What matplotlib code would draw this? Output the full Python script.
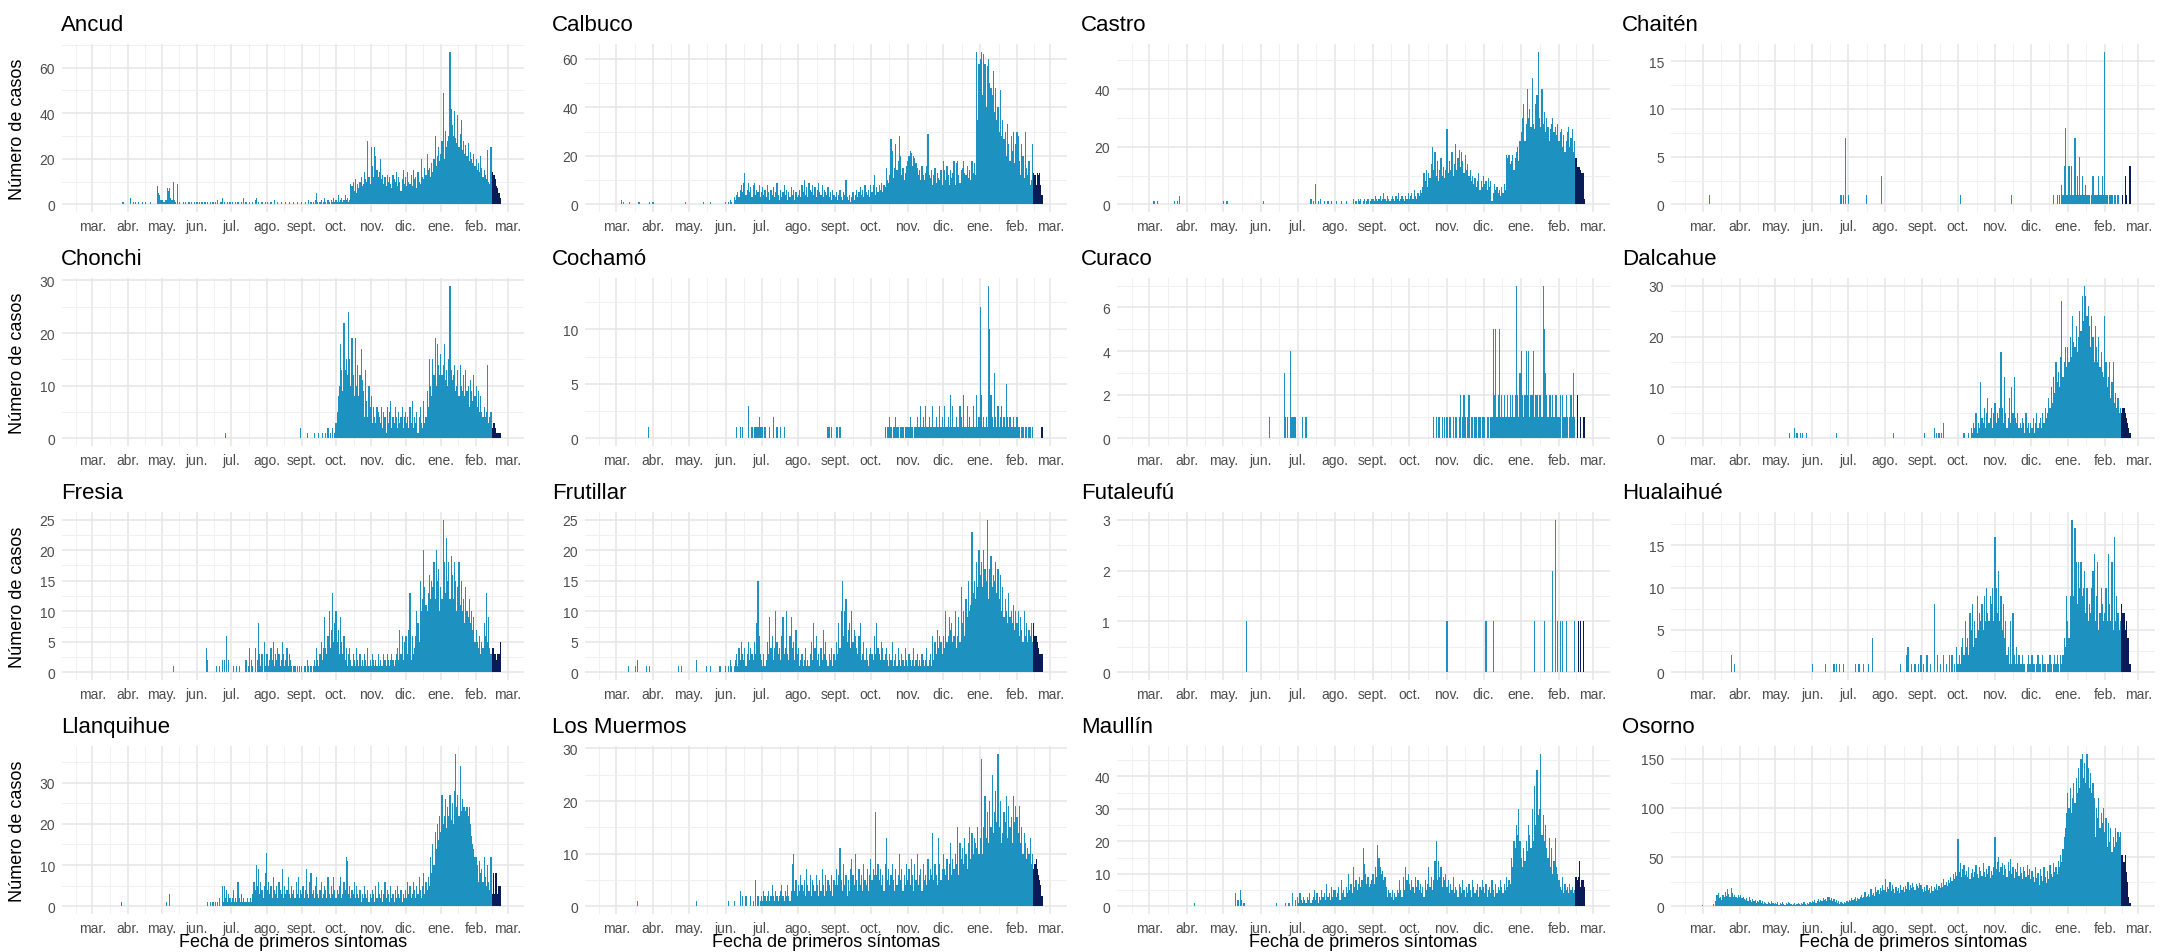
import numpy as np
import matplotlib
matplotlib.use("Agg")
import matplotlib.pyplot as plt

plt.rcParams['font.family'] = ['Liberation Sans', 'DejaVu Sans']

# Casos diarios por fecha de primeros síntomas, 2020-03-01 a 2021-02-22
# (una lista por mes; los ultimos 8 dias son provisorios, en azul oscuro)
dias_mes = [31, 30, 31, 30, 31, 31, 30, 31, 30, 31, 31, 22]
etiquetas_mes = ["mar.", "abr.", "may.", "jun.", "jul.", "ago.", "sept.",
                 "oct.", "nov.", "dic.", "ene.", "feb.", "mar."]
inicio_mes = [0, 31, 61, 92, 122, 153, 184, 214, 245, 275, 306, 337, 365]
n_provisorio = 8

ancud = [
    [0]*27 + [1, 0, 0, 0],
    [0, 0, 0, 3, 0, 1, 0, 1, 0, 0, 1, 0, 0, 1, 0, 0, 1, 0, 0, 0, 1, 0, 0, 0, 0, 0, 8, 5, 4, 2],
    [2, 2, 1, 2, 2, 7, 6, 7, 3, 2, 10, 2, 1, 0, 9, 0, 1, 0, 0, 1, 0, 1, 0, 0, 1, 0, 1, 0, 0, 1, 0],
    [1, 0, 1, 0, 1, 1, 0, 1, 0, 1, 0, 0, 1, 0, 1, 0, 1, 0, 2, 0, 0, 1, 3, 0, 1, 0, 0, 1, 0, 1],
    [0, 1, 0, 0, 1, 0, 1, 0, 0, 1, 0, 3, 0, 1, 0, 0, 1, 0, 0, 1, 0, 2, 3, 0, 1, 0, 0, 1, 0, 0, 1],
    [0, 1, 0, 0, 1, 0, 0, 2, 0, 0, 1, 0, 0, 1, 0, 0, 0, 1, 0, 0, 1, 0, 0, 0, 1, 0, 0, 1, 0, 0, 0],
    [1, 0, 0, 1, 0, 0, 2, 0, 1, 0, 1, 0, 2, 5, 1, 0, 1, 2, 0, 1, 3, 1, 0, 2, 1, 0, 2, 1, 3, 1],
    [2, 1, 4, 1, 2, 3, 1, 2, 4, 2, 3, 1, 2, 9, 8, 10, 6, 11, 5, 9, 7, 10, 12, 8, 9, 14, 11, 10, 28, 12, 9],
    [25, 17, 12, 25, 21, 15, 12, 14, 20, 11, 13, 9, 12, 8, 13, 10, 12, 9, 7, 13, 11, 10, 14, 8, 12, 10, 6, 11, 15, 9],
    [12, 8, 14, 10, 9, 13, 8, 15, 11, 12, 7, 14, 10, 9, 20, 12, 11, 16, 13, 22, 15, 16, 12, 18, 14, 20, 30, 17, 21, 25, 19],
    [22, 28, 49, 20, 32, 25, 28, 30, 67, 42, 35, 30, 41, 29, 27, 39, 25, 31, 37, 24, 28, 22, 26, 21, 27, 19, 23, 20, 18, 22, 17],
    [20, 15, 18, 14, 21, 16, 12, 15, 13, 11, 24, 10, 9, 25, 14, 13, 13, 11, 8, 7, 5, 3],
]

calbuco = [
    [0, 0, 0, 0, 2, 0, 1, 0, 0, 0, 0, 1, 0, 0, 0, 0, 0, 0, 0, 1, 0, 0, 0, 0, 0, 0, 0, 0, 1, 0, 1],
    [1] + [0]*26 + [1, 0, 0],
    [0]*12 + [1] + [0]*5 + [1] + [0]*12,
    [1, 0, 1, 0, 2, 1, 0, 3, 2, 4, 5, 3, 6, 8, 5, 9, 13, 4, 6, 9, 5, 7, 3, 8, 9, 4, 6, 5, 8, 3],
    [5, 7, 4, 6, 3, 8, 5, 2, 6, 4, 7, 3, 5, 9, 4, 2, 6, 3, 5, 8, 4, 6, 2, 5, 3, 7, 4, 6, 2, 5, 3],
    [4, 6, 3, 8, 5, 10, 4, 7, 3, 9, 6, 5, 8, 4, 7, 3, 6, 9, 5, 4, 8, 3, 6, 5, 4, 7, 3, 5, 2, 6, 4],
    [3, 5, 2, 4, 6, 3, 2, 5, 4, 10, 3, 2, 4, 1, 3, 5, 2, 4, 6, 3, 5, 7, 4, 6, 3, 8, 5, 4, 6, 3],
    [8, 5, 8, 12, 4, 7, 5, 8, 6, 9, 5, 8, 7, 15, 10, 9, 12, 27, 22, 11, 15, 25, 14, 18, 28, 20, 12, 15, 10, 13, 16],
    [18, 20, 22, 21, 16, 20, 19, 17, 15, 12, 14, 10, 16, 12, 10, 13, 16, 29, 12, 11, 14, 8, 12, 15, 9, 13, 11, 10, 14, 8],
    [18, 14, 10, 16, 12, 8, 14, 11, 13, 18, 8, 17, 18, 12, 9, 14, 15, 18, 13, 12, 16, 11, 14, 10, 18, 13, 17, 12, 63, 35, 58],
    [60, 63, 45, 62, 58, 40, 57, 60, 50, 48, 45, 55, 38, 48, 35, 40, 30, 47, 28, 35, 27, 30, 20, 33, 25, 18, 28, 22, 30, 17, 25],
    [30, 28, 18, 12, 25, 20, 11, 30, 15, 12, 18, 8, 10, 25, 13, 12, 8, 13, 12, 13, 8, 4],
]

castro = [
    [0, 0, 0, 0, 1, 0, 0, 1] + [0]*13 + [1, 0, 1, 0, 3] + [0]*5,
    [0]*30,
    [1, 0, 0, 1] + [0]*27,
    [0, 0, 1] + [0]*27,
    [0]*11 + [2, 0, 1, 0, 7, 0, 1, 0, 2, 0, 0, 1, 0, 0, 1, 0, 0, 1, 0, 0],
    [0, 1, 0, 0, 0, 1, 0, 0, 0, 1, 0, 0, 0, 0, 0, 2, 0, 1, 0, 2, 1, 2, 0, 1, 2, 0, 1, 2, 0, 1, 2],
    [2, 1, 3, 2, 1, 2, 3, 1, 2, 4, 2, 1, 3, 2, 1, 2, 3, 2, 1, 3, 2, 4, 1, 2, 3, 2, 1, 3, 2, 4],
    [2, 3, 4, 2, 5, 3, 2, 4, 3, 5, 4, 6, 11, 8, 12, 6, 11, 9, 14, 20, 12, 18, 10, 15, 8, 12, 16, 10, 13, 9, 12],
    [26, 11, 15, 12, 18, 10, 14, 21, 12, 16, 19, 13, 18, 15, 11, 17, 12, 14, 10, 12, 8, 10, 7, 9, 6, 8, 11, 5, 8, 6],
    [10, 7, 8, 5, 9, 6, 8, 1, 4, 7, 5, 6, 4, 5, 3, 6, 4, 7, 5, 17, 16, 17, 14, 15, 17, 12, 16, 18, 20, 15, 22],
    [25, 30, 35, 22, 28, 40, 30, 33, 27, 44, 28, 26, 35, 38, 53, 30, 27, 40, 28, 32, 25, 30, 27, 22, 26, 28, 30, 25, 27, 24, 28],
    [22, 25, 26, 20, 24, 18, 22, 25, 27, 20, 23, 26, 18, 22, 16, 13, 13, 13, 12, 11, 11, 2],
]

chaiten = [
    [0]*6 + [1] + [0]*24,
    [0]*30,
    [0]*31,
    [0]*24 + [1, 0, 1, 0, 7, 0],
    [1] + [0]*14 + [1] + [0]*12 + [3, 0, 0],
    [0]*31,
    [0]*30,
    [0, 0, 1] + [0]*28,
    [0]*14 + [1] + [0]*15,
    [0]*19 + [1, 0, 0, 1, 0, 1, 0, 2, 1, 4, 8, 1],
    [1, 4, 1, 4, 1, 1, 7, 1, 3, 1, 5, 1, 3, 1, 1, 2, 1, 1, 1, 0, 1, 3, 1, 1, 1, 1, 3, 1, 1, 3, 1],
    [16, 1, 1, 0, 1, 1, 1, 0, 1, 1, 0, 1, 0, 0, 0, 1, 0, 3, 1, 0, 0, 4],
]

chonchi = [
    [0]*31,
    [0]*30,
    [0]*31,
    [0]*25 + [1, 0, 0, 0, 0],
    [0]*31,
    [0]*30 + [2],
    [0, 0, 0, 0, 0, 1, 0, 0, 0, 0, 0, 1, 0, 0, 0, 1, 0, 0, 1, 0, 0, 1, 0, 2, 0, 1, 0, 2, 0, 1],
    [3, 5, 8, 10, 18, 13, 9, 22, 13, 15, 12, 24, 15, 10, 19, 12, 8, 19, 10, 14, 8, 12, 17, 11, 9, 4, 13, 7, 4, 10, 6],
    [8, 3, 6, 4, 3, 6, 5, 4, 3, 6, 2, 5, 4, 1, 6, 3, 5, 7, 2, 4, 3, 6, 4, 2, 5, 3, 4, 6, 2, 4],
    [5, 3, 4, 2, 6, 3, 7, 2, 4, 3, 5, 1, 4, 6, 3, 2, 7, 3, 4, 9, 6, 15, 10, 8, 15, 12, 19, 10, 18, 14, 12],
    [16, 12, 14, 18, 11, 13, 10, 15, 29, 13, 11, 12, 14, 9, 10, 13, 8, 14, 10, 9, 12, 8, 13, 9, 10, 6, 11, 9, 7, 12, 8],
    [10, 6, 9, 5, 8, 5, 4, 6, 4, 5, 14, 3, 4, 5, 2, 3, 3, 2, 1, 1, 1, 1],
]

cochamo = [
    [0]*27 + [1, 0, 0, 0],
    [0]*30,
    [0]*31,
    [0]*9 + [1, 0, 0, 1, 0, 1, 0, 0, 0, 0, 3, 0, 0, 1, 0, 1, 1, 1, 1, 2, 1],
    [1, 1, 0, 1, 0, 0, 0, 1, 0, 0, 2, 0, 0, 1, 0, 0, 1, 0, 0, 1] + [0]*11,
    [0]*25 + [1, 1, 0, 1, 0, 0],
    [0, 1, 1, 0, 1] + [0]*25,
    [0]*12 + [1, 0, 1, 1, 2, 1, 0, 1, 1, 2, 1, 1, 0, 1, 1, 1, 0, 1, 1],
    [1, 1, 2, 1, 1, 0, 1, 1, 2, 1, 1, 3, 1, 2, 1, 3, 1, 1, 2, 1, 1, 3, 1, 1, 2, 1, 1, 3, 1, 2],
    [1, 3, 1, 1, 2, 1, 4, 1, 3, 1, 1, 2, 1, 1, 3, 2, 1, 4, 1, 1, 3, 1, 2, 1, 1, 3, 1, 1, 4, 1, 2],
    [12, 4, 1, 2, 1, 2, 1, 14, 10, 4, 2, 1, 6, 2, 1, 3, 1, 2, 3, 1, 2, 1, 5, 2, 1, 2, 1, 1, 2, 1, 1],
    [2, 1, 1, 0, 1, 1, 0, 1, 1, 0, 1, 1, 0, 1, 0, 0, 0, 0, 0, 0, 0, 1],
]

curaco = [
    [0]*31,
    [0]*30,
    [0]*31,
    [0]*7 + [1] + [0]*11 + [3, 1, 0, 1, 0, 4, 1, 1, 1, 1, 0],
    [0, 0, 0, 0, 1, 0, 0, 1] + [0]*23,
    [0]*31,
    [0]*30,
    [0]*20 + [1, 0, 1, 0, 1, 1, 0, 1, 0, 1, 0],
    [1, 0, 1, 1, 0, 1, 0, 1, 1, 0, 1, 2, 0, 1, 2, 1, 0, 1, 2, 0, 1, 1, 0, 1, 1, 0, 1, 1, 0, 1],
    [1, 1, 0, 1, 1, 0, 1, 1, 5, 2, 5, 1, 2, 5, 1, 2, 1, 2, 1, 1, 2, 1, 2, 1, 2, 1, 2, 7, 2, 1, 3],
    [4, 2, 1, 2, 4, 2, 4, 1, 2, 2, 4, 1, 2, 2, 1, 2, 2, 1, 7, 5, 3, 2, 1, 2, 2, 1, 2, 1, 2, 2, 1],
    [1, 2, 0, 2, 1, 1, 2, 1, 0, 1, 2, 1, 3, 1, 0, 2, 0, 0, 1, 0, 1, 1],
]

dalcahue = [
    [0]*31,
    [0]*30,
    [0]*12 + [1, 0, 0, 0, 2, 0, 1, 0, 0, 1, 0, 1, 0, 0, 1] + [0]*4,
    [0]*20 + [1] + [0]*9,
    [0]*31,
    [0]*7 + [1] + [0]*23,
    [0, 0, 1, 0, 0, 0, 0, 0, 0, 0, 2, 0, 1, 0, 1, 0, 1, 0, 3] + [0]*11,
    [0, 0, 0, 0, 0, 1, 0, 0, 0, 1, 0, 2, 1, 3, 2, 5, 1, 3, 2, 11, 4, 3, 6, 2, 5, 8, 3, 4, 6, 2, 5],
    [7, 3, 5, 4, 6, 17, 6, 3, 12, 5, 2, 4, 8, 3, 10, 5, 12, 4, 3, 5, 2, 3, 2, 4, 3, 1, 5, 2, 3, 1],
    [3, 2, 4, 1, 3, 5, 2, 3, 4, 2, 5, 3, 6, 4, 5, 8, 6, 10, 7, 12, 9, 15, 11, 13, 10, 16, 27, 12, 15, 18, 14],
    [18, 15, 20, 16, 24, 19, 18, 22, 17, 20, 25, 21, 28, 23, 30, 28, 24, 26, 22, 18, 24, 20, 15, 22, 18, 15, 20, 14, 17, 13, 12],
    [24, 15, 10, 12, 15, 8, 11, 15, 7, 9, 6, 8, 5, 6, 5, 6, 6, 5, 4, 3, 2, 1],
]

fresia = [
    [0]*31,
    [0]*30,
    [0]*10 + [1] + [0]*20,
    [0]*8 + [4, 2, 0, 0, 0, 0, 0, 0, 0, 1, 0, 0, 1, 0, 2, 0, 2, 0, 6, 0, 2, 0],
    [0, 0, 1, 0, 0, 1, 0, 1, 0, 0, 0, 0, 0, 2, 0, 1, 4, 0, 2, 1, 0, 4, 0, 2, 8, 3, 1, 3, 0, 5, 1],
    [3, 3, 1, 2, 4, 2, 5, 1, 3, 2, 4, 3, 1, 2, 5, 3, 1, 2, 4, 1, 3, 2, 1, 0, 1, 1, 0, 1, 0, 1, 0],
    [1, 0, 1, 1, 0, 2, 1, 0, 1, 0, 1, 2, 1, 4, 2, 1, 3, 5, 2, 4, 9, 4, 3, 6, 10, 4, 7, 13, 5, 8],
    [10, 5, 7, 3, 9, 5, 3, 6, 2, 4, 1, 3, 4, 2, 1, 3, 2, 1, 4, 2, 1, 3, 1, 2, 1, 3, 2, 1, 4, 1, 2],
    [1, 3, 2, 1, 2, 1, 3, 1, 2, 1, 1, 3, 2, 1, 3, 2, 1, 2, 3, 2, 1, 2, 3, 4, 2, 7, 3, 6, 2, 5],
    [6, 6, 3, 7, 13, 2, 6, 3, 4, 6, 10, 8, 5, 15, 10, 12, 20, 14, 11, 10, 13, 16, 12, 15, 14, 18, 12, 20, 15, 17, 10],
    [14, 12, 25, 18, 13, 22, 15, 18, 12, 19, 16, 12, 18, 15, 10, 14, 18, 11, 15, 10, 12, 8, 14, 10, 9, 12, 8, 10, 7, 9, 5],
    [7, 5, 4, 6, 3, 5, 4, 8, 6, 13, 5, 9, 4, 3, 4, 4, 3, 3, 2, 3, 3, 5],
]

frutillar = [
    [0]*10 + [1, 0, 0, 0, 0, 0, 1, 0, 2, 0, 0, 0, 0, 0, 0, 1, 0, 0, 1, 0, 0],
    [0]*21 + [1, 0, 0, 1, 0, 0, 0, 0, 0],
    [0]*6 + [2] + [0]*8 + [1, 0, 0, 1] + [0]*7 + [1, 0, 0, 0, 0],
    [1, 0, 1, 0, 2, 1, 0, 1, 2, 3, 1, 4, 2, 5, 3, 2, 4, 1, 3, 5, 2, 4, 3, 2, 5, 3, 8, 15, 6, 3],
    [2, 1, 3, 1, 2, 5, 3, 9, 4, 6, 2, 4, 10, 5, 3, 4, 2, 6, 9, 3, 4, 10, 3, 2, 6, 9, 4, 5, 2, 7, 3],
    [4, 1, 2, 3, 1, 2, 4, 1, 2, 1, 3, 5, 2, 8, 4, 6, 2, 3, 1, 4, 2, 7, 3, 5, 2, 1, 3, 2, 4, 1, 3],
    [2, 5, 3, 8, 4, 10, 15, 6, 10, 12, 5, 7, 8, 4, 10, 5, 7, 6, 4, 3, 6, 8, 2, 3, 5, 2, 4, 2, 1, 3],
    [4, 3, 2, 6, 3, 8, 4, 3, 2, 5, 4, 2, 3, 4, 2, 1, 3, 2, 5, 1, 2, 3, 1, 4, 2, 1, 3, 2, 1, 4, 2],
    [1, 3, 2, 1, 2, 4, 1, 2, 3, 1, 2, 1, 3, 2, 1, 2, 4, 1, 2, 3, 1, 6, 2, 5, 3, 7, 4, 6, 5, 3],
    [6, 4, 10, 5, 6, 9, 7, 8, 5, 6, 10, 4, 6, 9, 5, 14, 8, 10, 6, 12, 9, 15, 10, 11, 23, 13, 15, 12, 18, 14, 20],
    [16, 18, 14, 20, 17, 15, 25, 12, 17, 19, 14, 16, 15, 18, 13, 17, 12, 16, 10, 14, 9, 12, 10, 8, 13, 9, 10, 8, 11, 7, 10],
    [8, 10, 6, 9, 7, 5, 10, 6, 8, 5, 7, 6, 8, 5, 8, 6, 6, 5, 4, 3, 3, 3],
]

futaleufu = [
    [0]*31,
    [0]*30,
    [0]*19 + [1] + [0]*11,
    [0]*30,
    [0]*31,
    [0]*31,
    [0]*30,
    [0]*31,
    [1] + [0]*29,
    [0, 0, 1, 0, 0, 0, 0, 0, 1] + [0]*22,
    [0]*11 + [1] + [0]*7 + [1] + [0]*6 + [2, 0, 3, 0, 1],
    [0, 1, 0, 1, 0, 0, 1, 0, 0, 0, 0, 0, 0, 1, 0, 0, 1, 0, 1, 0, 1, 0],
]

hualaihue = [
    [0]*24 + [2, 0, 0, 1, 0, 0, 0],
    [0]*30,
    [0]*31,
    [1] + [0]*10 + [1] + [0]*6 + [1, 0, 1, 0, 0, 1, 0, 0, 1, 0, 0, 0],
    [0]*6 + [1, 0, 0, 1, 0, 0, 0, 1, 0, 0, 0, 1, 0, 0, 4] + [0]*10,
    [0]*13 + [1, 0, 0, 0, 0, 2, 3, 0, 0, 1, 0, 0, 1, 0, 0, 1, 0, 2],
    [0, 1, 0, 0, 2, 0, 0, 1, 0, 0, 8, 0, 0, 2, 0, 1, 0, 0, 2, 0, 1, 0, 0, 2, 0, 2, 0, 1, 0, 3],
    [1, 2, 1, 3, 4, 2, 6, 3, 4, 2, 7, 5, 8, 3, 6, 4, 9, 5, 7, 6, 8, 5, 9, 6, 10, 7, 6, 9, 8, 10, 6],
    [16, 10, 7, 12, 6, 9, 5, 8, 4, 6, 2, 3, 1, 6, 1, 7, 2, 1, 3, 1, 2, 1, 1, 2, 1, 1, 0, 1, 2, 1],
    [1, 2, 1, 1, 0, 1, 2, 1, 1, 0, 2, 1, 1, 0, 1, 1, 2, 1, 0, 1, 2, 1, 2, 1, 0, 2, 1, 2, 4, 3, 9],
    [6, 4, 9, 18, 18, 9, 17, 13, 8, 13, 10, 13, 9, 10, 12, 7, 10, 6, 8, 7, 10, 12, 14, 6, 9, 13, 5, 7, 10, 8, 6],
    [7, 10, 6, 14, 8, 6, 13, 5, 16, 6, 9, 7, 5, 6, 8, 7, 7, 5, 6, 4, 4, 1],
]

llanquihue = [
    [0]*26 + [1, 0, 0, 0, 0],
    [0]*30,
    [0, 0, 0, 0, 1, 0, 0, 3] + [0]*23,
    [0]*9 + [1, 0, 0, 1, 0, 1, 0, 1, 0, 1, 0, 2, 0, 5, 1, 5, 2, 4, 1, 3, 2],
    [1, 2, 4, 1, 2, 1, 6, 2, 1, 3, 1, 2, 1, 1, 2, 1, 1, 2, 1, 3, 6, 4, 10, 5, 9, 3, 6, 4, 2, 5, 8],
    [13, 4, 6, 3, 5, 2, 7, 4, 3, 5, 2, 6, 4, 3, 9, 2, 5, 3, 4, 7, 3, 2, 5, 3, 4, 2, 6, 3, 7, 2, 4],
    [3, 5, 2, 4, 9, 3, 2, 6, 8, 3, 4, 2, 5, 7, 3, 2, 4, 6, 2, 3, 5, 4, 2, 7, 3, 2, 5, 3, 7, 4],
    [2, 4, 3, 5, 7, 2, 3, 6, 4, 12, 11, 3, 5, 2, 4, 3, 6, 2, 5, 3, 2, 4, 1, 3, 2, 5, 3, 2, 4, 1, 3],
    [2, 4, 3, 1, 5, 2, 6, 3, 2, 4, 1, 3, 6, 2, 4, 3, 1, 5, 2, 3, 1, 4, 2, 5, 3, 2, 4, 1, 3, 2],
    [4, 2, 6, 3, 5, 2, 3, 6, 4, 2, 5, 3, 7, 4, 2, 5, 8, 3, 6, 4, 7, 5, 12, 8, 15, 10, 18, 14, 20, 16, 22],
    [18, 27, 20, 22, 26, 19, 24, 22, 27, 21, 25, 20, 28, 37, 24, 27, 22, 34, 23, 26, 24, 24, 23, 24, 22, 24, 20, 17, 15, 14, 12],
    [12, 10, 6, 11, 8, 9, 6, 12, 7, 5, 10, 6, 4, 12, 3, 8, 3, 8, 8, 3, 5, 5],
]

los_muermos = [
    [0]*18 + [1] + [0]*12,
    [0]*30,
    [0]*6 + [1] + [0]*24,
    [0, 0, 1, 0, 0, 0, 0, 1, 0, 0, 0, 0, 3, 0, 2, 0, 0, 2, 0, 0, 0, 2, 0, 1, 0, 5, 0, 2, 0, 1],
    [2, 1, 3, 2, 1, 2, 3, 1, 2, 4, 2, 1, 3, 2, 1, 2, 3, 4, 2, 1, 3, 2, 4, 2, 1, 3, 8, 10, 3, 5, 2],
    [4, 3, 6, 4, 3, 5, 2, 7, 4, 3, 6, 2, 5, 4, 3, 6, 4, 2, 5, 3, 7, 4, 2, 6, 3, 5, 4, 3, 6, 2, 5],
    [4, 7, 4, 6, 11, 5, 3, 8, 4, 6, 2, 5, 3, 7, 9, 6, 4, 10, 5, 3, 7, 4, 6, 3, 8, 5, 4, 7, 3, 6],
    [9, 5, 7, 6, 18, 6, 8, 5, 7, 4, 6, 3, 8, 13, 5, 7, 4, 6, 8, 5, 3, 7, 4, 6, 10, 5, 7, 3, 6, 4, 8],
    [5, 7, 4, 9, 6, 3, 8, 5, 10, 4, 6, 7, 3, 8, 5, 6, 4, 9, 5, 7, 6, 14, 5, 8, 6, 4, 13, 8, 5, 7],
    [10, 7, 6, 9, 5, 8, 12, 6, 9, 7, 10, 8, 15, 6, 12, 9, 11, 8, 13, 10, 7, 12, 15, 9, 14, 10, 13, 12, 11, 15, 10],
    [13, 28, 10, 15, 21, 13, 18, 12, 20, 15, 25, 14, 18, 22, 16, 29, 15, 20, 12, 14, 18, 16, 21, 13, 19, 15, 17, 12, 21, 16, 19],
    [17, 14, 19, 12, 15, 10, 14, 12, 9, 11, 10, 13, 8, 10, 7, 8, 9, 7, 6, 5, 4, 2],
]

maullin = [
    [0]*31,
    [0]*6 + [1] + [0]*23,
    [0]*10 + [4, 0, 2, 0, 5, 2, 0, 1] + [0]*13,
    [0]*13 + [1] + [0]*6 + [1, 0, 0, 1, 0, 0, 4, 0, 2, 0],
    [3, 1, 4, 2, 1, 3, 2, 1, 3, 2, 4, 1, 2, 3, 5, 2, 4, 1, 3, 2, 5, 3, 4, 2, 7, 3, 4, 2, 6, 3, 5],
    [5, 3, 4, 6, 2, 8, 4, 5, 3, 6, 4, 10, 5, 7, 4, 12, 6, 8, 5, 7, 9, 6, 8, 18, 13, 10, 7, 9, 6, 7, 8],
    [10, 7, 12, 9, 19, 15, 12, 10, 11, 8, 9, 6, 3, 5, 4, 3, 5, 2, 4, 3, 5, 4, 8, 5, 3, 9, 5, 12, 8, 10],
    [7, 5, 8, 6, 4, 9, 6, 8, 5, 7, 4, 6, 3, 8, 5, 7, 12, 6, 9, 5, 8, 14, 20, 8, 14, 9, 12, 6, 9, 8, 10],
    [6, 8, 4, 7, 5, 9, 4, 6, 5, 3, 7, 6, 4, 8, 5, 3, 6, 4, 7, 5, 3, 8, 6, 4, 5, 7, 3, 6, 5, 8],
    [6, 4, 7, 3, 5, 6, 4, 8, 5, 3, 7, 4, 6, 5, 8, 6, 4, 7, 5, 9, 6, 8, 7, 15, 12, 20, 18, 25, 22, 30, 20],
    [15, 12, 18, 14, 20, 17, 25, 22, 18, 30, 20, 37, 25, 42, 28, 30, 47, 22, 28, 20, 25, 18, 15, 21, 12, 18, 10, 14, 21, 12, 10],
    [8, 6, 5, 9, 4, 7, 5, 6, 4, 7, 5, 6, 4, 5, 9, 8, 9, 14, 6, 8, 8, 6],
]

osorno = [
    [1, 0, 0, 0, 0, 0, 0, 0, 0, 2, 0, 5, 12, 14, 8, 10, 6, 12, 9, 15, 11, 18, 13, 10, 19, 14, 9, 12, 10, 8, 12],
    [10, 12, 8, 9, 7, 6, 8, 5, 9, 6, 4, 7, 5, 6, 3, 5, 4, 6, 3, 5, 2, 4, 3, 2, 4, 3, 2, 5, 3, 2],
    [3, 2, 4, 1, 3, 2, 4, 2, 1, 3, 2, 4, 3, 2, 1, 2, 3, 1, 2, 3, 2, 1, 3, 2, 4, 2, 1, 3, 2, 4, 3],
    [5, 4, 6, 3, 5, 7, 4, 6, 5, 8, 6, 7, 5, 9, 10, 6, 8, 5, 7, 4, 6, 3, 5, 2, 4, 3, 2, 4, 3, 5],
    [4, 6, 5, 8, 6, 7, 10, 5, 8, 7, 9, 12, 8, 10, 15, 9, 11, 13, 10, 18, 12, 14, 11, 20, 15, 17, 13, 19, 16, 22, 17],
    [28, 15, 20, 18, 25, 16, 22, 18, 14, 20, 16, 19, 14, 22, 17, 20, 15, 21, 18, 25, 17, 22, 19, 24, 20, 17, 23, 21, 19, 24, 22],
    [18, 15, 20, 16, 22, 17, 19, 14, 21, 16, 20, 18, 23, 17, 21, 19, 24, 20, 28, 22, 25, 21, 27, 24, 30, 26, 33, 28, 35, 31],
    [68, 35, 44, 30, 38, 42, 32, 36, 30, 40, 28, 34, 38, 30, 35, 42, 33, 29, 40, 36, 31, 44, 35, 30, 38, 33, 41, 29, 36, 32, 40],
    [70, 38, 45, 50, 35, 40, 44, 32, 42, 38, 30, 45, 36, 48, 33, 40, 29, 38, 35, 44, 31, 40, 34, 28, 40, 36, 30, 42, 32, 38],
    [28, 36, 30, 25, 40, 29, 34, 22, 38, 31, 26, 40, 30, 24, 36, 28, 42, 33, 30, 44, 35, 40, 33, 46, 40, 52, 45, 58, 70, 80, 95],
    [115, 100, 120, 95, 110, 125, 105, 130, 115, 140, 120, 150, 155, 130, 145, 125, 155, 140, 120, 135, 115, 125, 110, 70, 100, 90, 110, 80, 95, 85, 100],
    [75, 90, 60, 85, 65, 80, 55, 70, 60, 80, 65, 75, 70, 75, 52, 52, 45, 52, 35, 25, 10, 3],
]

comunas = ["Ancud", "Calbuco", "Castro", "Chaitén", "Chonchi", "Cochamó", "Curaco", "Dalcahue",
           "Fresia", "Frutillar", "Futaleufú", "Hualaihué", "Llanquihue", "Los Muermos", "Maullín", "Osorno"]
series = [ancud, calbuco, castro, chaiten, chonchi, cochamo, curaco, dalcahue,
          fresia, frutillar, futaleufu, hualaihue, llanquihue, los_muermos, maullin, osorno]
yticks = [[0, 20, 40, 60], [0, 20, 40, 60], [0, 20, 40], [0, 5, 10, 15],
          [0, 10, 20, 30], [0, 5, 10], [0, 2, 4, 6], [0, 10, 20, 30],
          [0, 5, 10, 15, 20, 25], [0, 5, 10, 15, 20, 25], [0, 1, 2, 3], [0, 5, 10, 15],
          [0, 10, 20, 30], [0, 10, 20, 30], [0, 10, 20, 30, 40], [0, 50, 100, 150]]

azul = "#1d91c0"
azul_oscuro = "#081d58"


def serie(meses):
    # une los meses y ajusta el largo de cada uno por si acaso
    valores = []
    for m, n in zip(meses, dias_mes):
        m = list(m)[:n]
        valores += m + [0] * (n - len(m))
    return np.array(valores)


W, H = 2173, 953
# borde izquierdo y derecho de cada columna de paneles, y x del titulo (pixeles)
izq = [62, 585, 1117, 1671]
der = [524, 1067, 1610, 2155]
x_titulo = [61, 552, 1081, 1622]
tops = [45, 279, 513, 747]
ph = 168
xlim = (-26.5, 379)

fig = plt.figure(figsize=(W / 100, H / 100), dpi=100)

for i, (nombre, meses, yt) in enumerate(zip(comunas, series, yticks)):
    fila, col = divmod(i, 4)
    pw = der[col] - izq[col]
    ax = fig.add_axes([izq[col] / W, 1 - (tops[fila] + ph) / H, pw / W, ph / H])
    y = serie(meses)
    x = np.arange(len(y))
    colores = [azul] * (len(y) - n_provisorio) + [azul_oscuro] * n_provisorio
    ax.bar(x, y, width=1.0, color=colores, linewidth=0)

    ymax = y.max()
    ax.set_ylim(-0.05 * ymax, 1.05 * ymax)
    ax.set_xlim(*xlim)

    ax.set_yticks(yt)
    paso = yt[1] - yt[0]
    menores_y = [v + paso / 2 for v in yt]
    ax.set_yticks([v for v in menores_y if v <= 1.05 * ymax], minor=True)
    ax.set_xticks(inicio_mes, etiquetas_mes)
    menores_x = [-14.5] + [(a + b) / 2 for a, b in zip(inicio_mes[:-1], inicio_mes[1:])]
    ax.set_xticks(menores_x, minor=True)

    ax.grid(which="major", color="#e6e6e6", linewidth=1.1)
    ax.grid(which="minor", color="#f0f0f0", linewidth=0.7)
    ax.set_axisbelow(True)
    for s in ax.spines.values():
        s.set_visible(False)
    ax.tick_params(which="both", length=0, labelsize=10, colors="#4d4d4d", pad=5)

    fig.text(x_titulo[col] / W, 1 - (tops[fila] - 14) / H, nombre,
             ha="left", va="baseline", fontsize=16, color="black")

    if col == 0:
        fig.text(18 / W, 1 - (tops[fila] + ph / 2) / H, "Número de casos",
                 rotation=90, ha="center", va="center", fontsize=13)
    if fila == 3:
        fig.text((izq[col] + pw / 2) / W, 1 - 943 / H, "Fecha de primeros síntomas",
                 ha="center", va="center", fontsize=13)

fig.savefig("out.png", dpi=100)
